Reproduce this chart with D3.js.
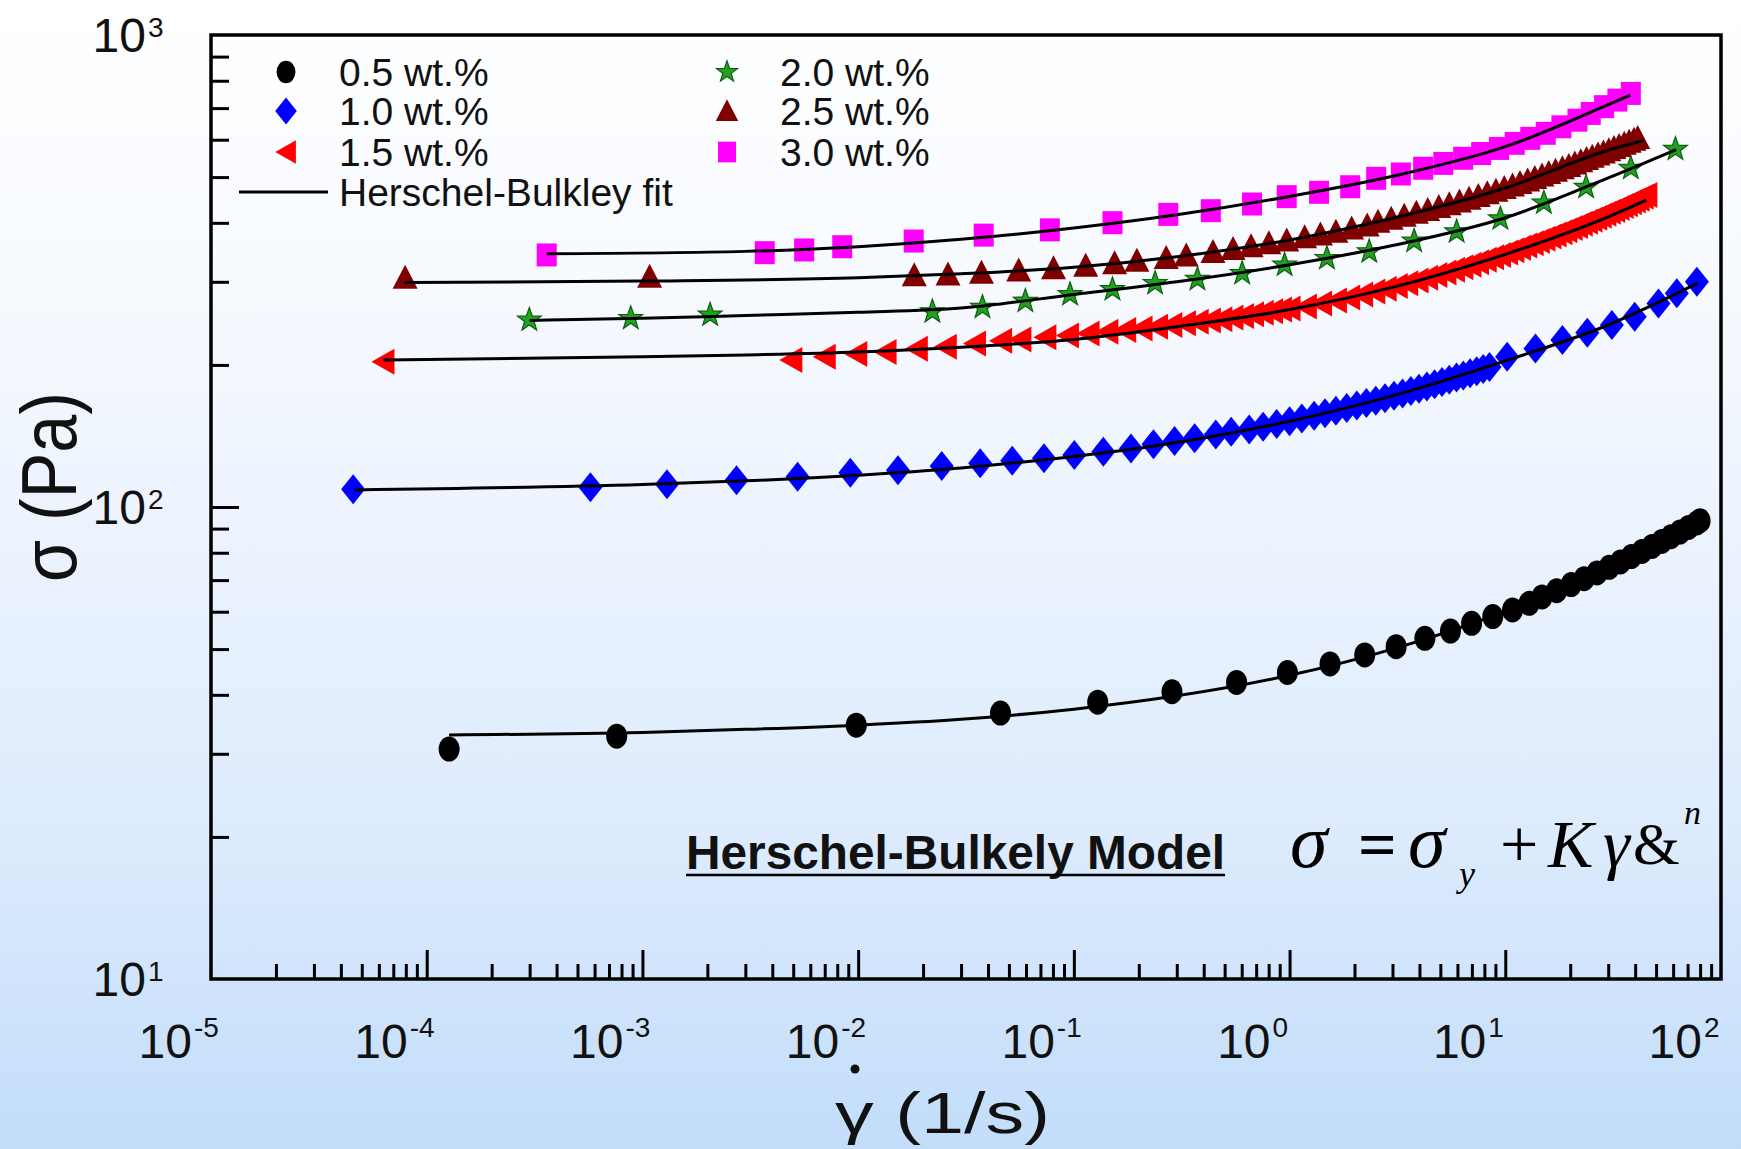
<!DOCTYPE html>
<html>
<head>
<meta charset="utf-8">
<script src="https://cdn.jsdelivr.net/npm/d3@7"></script>
<style>
  body { margin: 0; padding: 0; overflow: hidden; }
  text { font-family: "Liberation Sans", Arial, sans-serif; fill: #111; }
  .serif { font-family: "Liberation Serif", "Times New Roman", serif; }
</style>
</head>
<body>
<script>
// flow curves, [shear rate (1/s), stress (Pa)]
var labels = ["0.5 wt.%", "1.0 wt.%", "1.5 wt.%", "2.0 wt.%", "2.5 wt.%", "3.0 wt.%"];

var data05 = [[1.27e-4,30.7],[7.6e-4,32.7],[9.8e-3,34.5],[0.0457,36.6],[0.129,38.6],[0.285,40.6],[0.568,42.5],[0.977,44.6],[1.54,46.5],[2.23,48.6],[3.12,50.6],[4.24,52.7],[5.57,54.6],[6.98,56.7],[8.75,58.6],[10.8,60.5],[12.9,62.5],[14.8,64.5],[17.3,66.5],[20.2,68.5],[23.2,70.5],[26.6,72.5],[30.3,74.5],[34.2,76.5],[38.4,78.5],[43.0,80.5],[47.9,82.5],[53.1,84.5],[58.6,86.5],[64.5,88.5],[70.7,90.5],[77.3,92.5],[80,93.5]];

var data10 = [[4.56e-5,109],[5.74e-4,110.1],[1.30e-3,111.7],[2.73e-3,114],[5.24e-3,115.9],[9.2e-3,118.2],[0.0153,119.7],[0.0244,122.2],[0.0368,123.8],[0.0518,125.3],[0.0727,126.8],[0.1005,128.8],[0.137,130.9],[0.184,133.1],[0.234,135.8],[0.293,138],[0.363,139.8],[0.455,142.5],[0.536,144.4],[0.65,146],[0.754,148],[0.871,150],[1.0,152],[1.14,154],[1.30,156],[1.46,158],[1.64,160],[1.84,162],[2.05,164],[2.27,166],[2.51,168],[2.77,170],[3.05,172],[3.34,174],[3.65,176],[3.98,178],[4.33,180],[4.70,182],[5.09,184],[5.50,186],[5.94,188],[6.39,190],[6.87,192],[7.37,194],[7.90,196],[8.45,198],[10.2,208],[13.8,216.6],[18.4,225.8],[24,234],[31.2,243],[39.8,253],[51.3,270],[62.4,283.6],[77.3,300]];

var data15 = [[6.3e-5,203],[4.9e-3,204.8],[7.0e-3,208],[9.8e-3,211],[0.0134,213],[0.0187,216.5],[0.0255,218.6],[0.0348,222],[0.046,225],[0.0565,226.5],[0.0738,229],[0.0939,231],[0.117,233],[0.143,235],[0.173,237],[0.206,239],[0.243,241],[0.283,243],[0.327,245],[0.375,247],[0.427,248.5],[0.483,250],[0.543,252],[0.608,254],[0.677,256],[0.751,258],[0.829,260],[0.912,262],[1.0,263.5],[1.19,266],[1.40,270],[1.64,274],[1.89,278],[2.17,282],[2.47,286],[2.79,290],[3.14,294],[3.51,298],[3.92,302],[4.34,306],[4.79,310],[5.28,314],[5.78,318],[6.32,322],[6.89,326],[7.48,330],[8.11,334],[8.77,338],[9.46,342],[10.2,346],[10.9,350],[11.7,354],[12.5,358],[13.4,362],[14.3,366],[15.2,370],[16.2,374],[17.1,378],[18.2,382],[19.2,386],[20.3,390],[21.5,394],[22.6,398],[23.9,402],[25.1,406],[26.4,410],[27.7,414],[29.1,418],[30.5,422],[32.0,426],[33.5,430],[35.0,434],[36.6,438],[38.2,442],[39.8,446],[41.5,450],[43.3,454],[45.1,458]];

var data20 = [[2.99e-4,249],[8.83e-4,251],[2.06e-3,255.2],[0.0221,259.3],[0.0377,265],[0.0596,273],[0.096,282],[0.151,289],[0.238,297.8],[0.374,303.7],[0.603,312.6],[0.948,325.6],[1.49,336.4],[2.34,347.5],[3.78,366],[5.95,383],[9.49,408],[15.1,441],[23.7,476],[38.2,522],[61.5,573]];

var data25 = [[7.94e-5,306],[1.08e-3,307.6],[0.0182,309.6],[0.0261,311],[0.0373,313.5],[0.0555,317],[0.0805,320.5],[0.1135,324.5],[0.1545,328.5],[0.196,332.5],[0.268,337],[0.332,341],[0.4415,347],[0.547,352],[0.663,357],[0.802,362],[0.97,367],[1.175,373],[1.39,378],[1.64,383],[1.94,389],[2.29,395],[2.57,402],[2.96,408],[3.40,414],[3.87,420],[4.37,426],[4.92,432],[5.50,438],[6.13,444],[6.79,450],[7.50,456],[8.25,462],[9.05,468],[9.89,474],[10.8,480],[11.7,486],[12.7,492],[13.7,498],[14.8,504],[15.9,510],[17.1,516],[18.4,522],[19.7,528],[21.0,534],[22.4,540],[23.8,546],[25.3,552],[26.9,558],[28.5,564],[30.2,570],[31.9,576],[33.7,582],[35.6,588],[37.5,594],[39.5,600],[41.1,605]];

var data30 = [[3.6e-4,342],[3.69e-3,345.8],[5.62e-3,350.4],[8.44e-3,356],[0.0181,366],[0.0382,376.7],[0.0774,386.5],[0.151,400.3],[0.274,416.8],[0.4315,424.4],[0.67,438.5],[0.97,454.5],[1.37,464.2],[1.91,477],[2.52,497],[3.28,507.6],[4.16,522],[5.16,534.5],[6.38,548],[7.73,561],[9.35,575],[11.06,589.5],[13.06,604],[15.4,619],[18.2,639],[21.6,660],[24.9,682],[28.7,705],[33.1,728],[38.2,752]];

// Herschel-Bulkley fit lines
var fit05 = [[1.27e-4,32.9],[1e-3,33.3],[3e-3,33.8],[0.01,34.5],[0.03,35.5],[0.1,37.3],[0.3,39.8],[1,44],[3,50],[10,60.1],[30,74.4],[80,93.3]];
var fit10 = [[4.6e-5,108.7],[1e-3,111.6],[3e-3,113.6],[0.01,116.8],[0.03,121],[0.1,128],[0.3,137],[1,152],[3,172],[10,204],[30,243],[78,298]];
var fit15 = [[6.3e-5,204.8],[1e-3,208],[3e-3,210],[0.01,213],[0.03,218],[0.1,226.5],[0.3,241],[1,262],[3,292],[10,343],[30,412],[45,447]];
var fit20 = [[3e-4,248.5],[1e-3,251],[3e-3,254.5],[0.01,258.5],[0.03,264],[0.1,282],[0.3,300],[1,326],[3,358],[10,410],[30,498],[62,572]];
var fit25 = [[7.9e-5,299],[1e-3,301],[0.01,306],[0.03,312],[0.1,322],[0.3,339],[1,368],[3,409],[10,474],[30,570],[44,598]];
var fit30 = [[3.6e-4,344],[3e-3,348],[0.01,356],[0.03,369],[0.1,390],[0.3,416],[1,455],[3,502],[10,580],[30,712],[38,746]];

var xMajor = [1e-5, 1e-4, 1e-3, 1e-2, 1e-1, 1e0, 1e1, 1e2];
var xExp = ["-5", "-4", "-3", "-2", "-1", "0", "1", "2"];
var yMajor = [10, 100, 1000];
var yExp = ["1", "2", "3"];

window.onload = drawChart();

function drawChart(){

    var width = 1741,
        height = 1149;

    var svg = d3.select("body")
        .append("svg")
        .attr("width", width)
        .attr("height", height);

    // page background, white to pale blue
    var grad = svg.append("defs").append("linearGradient")
        .attr("id", "bg")
        .attr("x1", 0).attr("y1", 0).attr("x2", 0).attr("y2", 1);
    grad.append("stop").attr("offset", "0%").attr("stop-color", "#ffffff");
    grad.append("stop").attr("offset", "30%").attr("stop-color", "#f4f8fe");
    grad.append("stop").attr("offset", "70%").attr("stop-color", "#dfecfd");
    grad.append("stop").attr("offset", "100%").attr("stop-color", "#c2ddfa");

    svg.append("rect")
        .attr("width", width)
        .attr("height", height)
        .attr("fill", "url(#bg)");

    var left = 211, right = 1721, top = 35, bottom = 979;

    var x = d3.scaleLog().domain([1e-5, 1e2]).range([left, right]);
    var y = d3.scaleLog().domain([10, 1000]).range([bottom, top]);

    // minor ticks 2..9 in every decade
    var xMinor = [], yMinor = [];
    for (var e = -5; e < 2; e++){
        for (var m = 2; m < 10; m++) xMinor.push(m * Math.pow(10, e));
    }
    for (var e2 = 1; e2 < 3; e2++){
        for (var m2 = 2; m2 < 10; m2++) yMinor.push(m2 * Math.pow(10, e2));
    }

    function styleAxis(g){
        g.select(".domain").remove();
        g.selectAll(".tick line").attr("stroke", "#000").attr("stroke-width", 3);
        g.selectAll(".tick text").remove();
    }

    svg.append("g")
        .attr("transform", "translate(0," + bottom + ")")
        .call(d3.axisBottom(x).tickValues(xMinor).tickSize(-15))
        .call(styleAxis);
    svg.append("g")
        .attr("transform", "translate(0," + bottom + ")")
        .call(d3.axisBottom(x).tickValues(xMajor.slice(1, 7)).tickSize(-29))
        .call(styleAxis);
    svg.append("g")
        .attr("transform", "translate(" + left + ",0)")
        .call(d3.axisLeft(y).tickValues(yMinor).tickSize(-18))
        .call(styleAxis);
    svg.append("g")
        .attr("transform", "translate(" + left + ",0)")
        .call(d3.axisLeft(y).tickValues([100]).tickSize(-28))
        .call(styleAxis);

    // frame
    svg.append("rect")
        .attr("x", left).attr("y", top)
        .attr("width", right - left).attr("height", bottom - top)
        .attr("fill", "none")
        .attr("stroke", "#000")
        .attr("stroke-width", 3.5);

    // tick labels with superscripts
    xMajor.forEach(function(v, i){
        var px = x(v);
        svg.append("text")
            .attr("x", px - 19).attr("y", 1058)
            .attr("text-anchor", "end")
            .attr("font-size", 48)
            .text("10");
        svg.append("text")
            .attr("x", px - 17).attr("y", 1037)
            .attr("font-size", 28)
            .text(xExp[i]);
    });
    yMajor.forEach(function(v, i){
        var py = y(v);
        svg.append("text")
            .attr("x", 146).attr("y", py + 17)
            .attr("text-anchor", "end")
            .attr("font-size", 48)
            .text("10");
        svg.append("text")
            .attr("x", 148).attr("y", py + 2)
            .attr("font-size", 28)
            .text(yExp[i]);
    });

    // axis titles
    svg.append("text")
        .attr("transform", "translate(76,487) rotate(-90)")
        .attr("text-anchor", "middle")
        .attr("font-size", 78)
        .attr("textLength", 190)
        .attr("lengthAdjust", "spacingAndGlyphs")
        .text("σ (Pa)");

    svg.append("text")
        .attr("x", 835).attr("y", 1133)
        .attr("font-size", 58)
        .attr("textLength", 215)
        .attr("lengthAdjust", "spacingAndGlyphs")
        .text("γ (1/s)");
    svg.append("circle")
        .attr("cx", 855).attr("cy", 1069).attr("r", 4.5)
        .attr("fill", "#111");

    // marker shapes
    function starPath(ro, ri){
        var pts = [];
        for (var k = 0; k < 10; k++){
            var r = k % 2 === 0 ? ro : ri;
            var a = -Math.PI / 2 + k * Math.PI / 5;
            pts.push([r * Math.cos(a), r * Math.sin(a)]);
        }
        return "M" + pts.join("L") + "Z";
    }

    var markers = [
        { d: "M-10.5,0A10.5,12.5 0 1,0 10.5,0A10.5,12.5 0 1,0 -10.5,0Z", fill: "#000000", stroke: "none" },
        { d: "M0,-15L12,0L0,15L-12,0Z", fill: "#0000ff", stroke: "none" },
        { d: "M-12,0L11,-13L11,13Z", fill: "#ff0000", stroke: "none" },
        { d: starPath(12.5, 5), fill: "#22a022", stroke: "#0b5e0b" },
        { d: "M0,-13L12.5,11L-12.5,11Z", fill: "#800000", stroke: "none" },
        { d: "M-10,-11.5L10,-11.5L10,11.5L-10,11.5Z", fill: "#ff00ff", stroke: "none" }
    ];

    var series = [data05, data10, data15, data20, data25, data30];
    var fits = [fit05, fit10, fit15, fit20, fit25, fit30];

    var plot = svg.append("g");

    series.forEach(function(s, i){
        plot.selectAll(".pt" + i)
            .data(s)
            .enter()
            .append("path")
            .attr("class", "pt" + i)
            .attr("d", markers[i].d)
            .attr("fill", markers[i].fill)
            .attr("stroke", markers[i].stroke)
            .attr("stroke-width", 1.2)
            .attr("transform", function(d){
                return "translate(" + x(d[0]) + "," + y(d[1]) + ")";
            });
    });

    var line = d3.line()
        .x(function(d){ return x(d[0]); })
        .y(function(d){ return y(d[1]); })
        .curve(d3.curveMonotoneX);

    fits.forEach(function(f){
        plot.append("path")
            .datum(f)
            .attr("d", line)
            .attr("fill", "none")
            .attr("stroke", "#000")
            .attr("stroke-width", 3);
    });

    // legend
    var legPos = [[286,72],[286,111],[286,152],[727,72],[727,111],[727,152]];
    labels.forEach(function(lab, i){
        svg.append("path")
            .attr("d", markers[i].d)
            .attr("fill", markers[i].fill)
            .attr("stroke", markers[i].stroke)
            .attr("stroke-width", 1.2)
            .attr("transform", "translate(" + legPos[i][0] + "," + legPos[i][1] + ") scale(0.9)");
        svg.append("text")
            .attr("x", legPos[i][0] + 53)
            .attr("y", legPos[i][1] + 14)
            .attr("font-size", 39)
            .text(lab);
    });
    svg.append("line")
        .attr("x1", 239).attr("x2", 328)
        .attr("y1", 192).attr("y2", 192)
        .attr("stroke", "#000").attr("stroke-width", 3);
    svg.append("text")
        .attr("x", 339).attr("y", 206)
        .attr("font-size", 39)
        .text("Herschel-Bulkley fit");

    // model annotation
    svg.append("text")
        .attr("x", 686).attr("y", 869)
        .attr("font-size", 48)
        .attr("font-weight", "bold")
        .attr("textLength", 539)
        .attr("lengthAdjust", "spacingAndGlyphs")
        .text("Herschel-Bulkely Model");
    svg.append("line")
        .attr("x1", 686).attr("x2", 1225)
        .attr("y1", 875).attr("y2", 875)
        .attr("stroke", "#000").attr("stroke-width", 2.5);

    // equation as one text element, glyphs placed one by one
    var eqParts = [
        { t: "σ", x: 1290, y: 867, s: 76, it: true, w: "normal" },
        { t: "=", x: 1358, y: 867, s: 68, it: false, w: "bold" },
        { t: "σ", x: 1408, y: 867, s: 76, it: true, w: "normal" },
        { t: "y", x: 1459, y: 886, s: 36, it: true, w: "normal" },
        { t: "+", x: 1500, y: 867, s: 68, it: false, w: "normal" },
        { t: "K", x: 1548, y: 867, s: 68, it: true, w: "normal" },
        { t: "γ", x: 1603, y: 867, s: 68, it: true, w: "normal" },
        { t: "&", x: 1633, y: 864, s: 60, it: false, w: "normal" },
        { t: "n", x: 1684, y: 824, s: 34, it: true, w: "normal" }
    ];
    var eq = svg.append("text")
        .attr("class", "serif")
        .style("fill", "#000");
    eqParts.forEach(function(p){
        eq.append("tspan")
            .attr("x", p.x).attr("y", p.y)
            .attr("font-size", p.s)
            .attr("font-style", p.it ? "italic" : "normal")
            .attr("font-weight", p.w)
            .text(p.t);
    });
};
</script>
</body>
</html>
